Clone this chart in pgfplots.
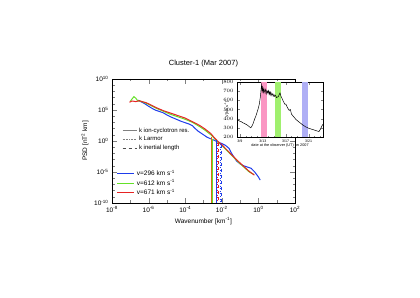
\documentclass[border=0pt]{standalone}
\usepackage{pgfplots}
\pgfplotsset{compat=1.18}
\usepackage{fontspec}
\setmainfont{Liberation Sans}
\definecolor{cblue}{RGB}{30,60,235}
\definecolor{cgreen}{RGB}{100,225,40}
\definecolor{cred}{RGB}{230,35,35}
\definecolor{corange}{RGB}{215,110,20}
\definecolor{bpink}{RGB}{250,150,195}
\definecolor{bgreen}{RGB}{160,240,110}
\definecolor{bblue}{RGB}{175,175,245}
\begin{document}
\begin{tikzpicture}
\path[use as bounding box] (0,0) rectangle (420pt,297pt);
% main axis
\begin{axis}[
  at={(112pt,94pt)}, anchor=south west, scale only axis,
  width=183pt, height=124pt,
  xmin=-8, xmax=2, ymin=-10, ymax=10,
  xtick={-8,-6,-4,-2,0,2},
  xticklabels={10\textsuperscript{-8},10\textsuperscript{-6},10\textsuperscript{-4},10\textsuperscript{-2},10\textsuperscript{0},10\textsuperscript{2}},
  minor xtick={-7,-5,-3,-1,1},
  ytick={-10,-5,0,5,10},
  yticklabels={10\textsuperscript{-10},10\textsuperscript{-5},10\textsuperscript{0},10\textsuperscript{5},10\textsuperscript{10}},
  minor ytick={-9,-8,-7,-6,-4,-3,-2,-1,1,2,3,4,6,7,8,9},
  tick align=inside, major tick length=5pt, minor tick length=2.5pt,
  ticklabel style={font=\fontsize{6.5}{7}\selectfont},
  xlabel={Wavenumber [km\textsuperscript{-1}]},
  ylabel={PSD [nT\textsuperscript{2} km]},
  every axis x label/.style={at={(axis description cs:0.5,-0.145)}, anchor=center, font=\fontsize{6.5}{7}\selectfont},
  every axis y label/.style={at={(axis description cs:-0.148,0.5)}, rotate=90, anchor=center, font=\fontsize{6.5}{7}\selectfont},
  title={Cluster-1 (Mar 2007)},
  title style={at={(axis description cs:0.5,1)}, anchor=south, yshift=2pt, font=\fontsize{7.5}{8}\selectfont},
  legend style={at={(axis description cs:0.025,0.035)}, anchor=south west, draw=none, fill=none,
    font=\fontsize{6.5}{7}\selectfont, inner sep=0pt, row sep=-1.5pt},
  legend cell align=left,
  legend image code/.code={\draw[line width=1.1pt] (0pt,0pt) -- (17pt,0pt);},
]
% spectra (log10 k, log10 PSD)
\addplot[cblue, line width=1pt] coordinates {
(-6.6,6.6) (-6.5,6.45) (-6.4,6.3) (-6.2,6.0) (-6.0,5.6) (-5.8,5.25) (-5.6,4.95) (-5.4,4.75) (-5.2,4.55) (-5.0,4.2)
(-4.8,3.9) (-4.6,3.65) (-4.4,3.4) (-4.2,3.15) (-4.0,2.95) (-3.8,2.75) (-3.6,2.45) (-3.45,2.0) (-3.3,1.6) (-3.15,1.3)
(-3.0,1.0) (-2.8,0.6) (-2.6,0.35) (-2.4,0.1) (-2.2,-0.2) (-2.0,-0.4) (-1.8,-0.7) (-1.6,-1.2) (-1.5,-1.8) (-1.4,-2.3)
(-1.2,-3.2) (-1.0,-3.7) (-0.8,-4.0) (-0.6,-4.2) (-0.4,-4.4) (-0.2,-5.0) (0.0,-5.8) (0.1,-6.3)};
\addlegendentry{v=296 km s\textsuperscript{-1}}
\addplot[cgreen, line width=1pt] coordinates {
(-7.0,6.4) (-6.9,6.8) (-6.8,7.15) (-6.7,6.9) (-6.6,6.5) (-6.45,6.4) (-6.3,6.3) (-6.0,5.9) (-5.8,5.6) (-5.6,5.3)
(-5.4,5.05) (-5.2,4.8) (-5.0,4.55) (-4.8,4.3) (-4.6,4.1) (-4.4,3.9) (-4.2,3.7) (-4.0,3.5) (-3.8,3.25) (-3.6,3.0)
(-3.4,2.65) (-3.2,2.3) (-2.9,1.7) (-2.6,1.0) (-2.4,0.4) (-2.2,-0.2) (-2.0,-0.7) (-1.8,-1.3) (-1.6,-1.9) (-1.4,-2.5)
(-1.2,-3.1) (-1.0,-3.65) (-0.8,-4.2) (-0.5,-5.0) (-0.25,-5.4)};
\addlegendentry{v=612 km s\textsuperscript{-1}}
\addplot[cred, line width=1pt] coordinates {
(-7.05,6.25) (-6.9,6.45) (-6.7,6.35) (-6.5,6.5) (-6.3,6.3) (-6.15,6.2) (-6.0,6.0) (-5.8,5.7) (-5.6,5.4) (-5.4,5.15)
(-5.2,4.9) (-5.0,4.7) (-4.8,4.5) (-4.6,4.3) (-4.4,4.1) (-4.2,3.9) (-4.0,3.7) (-3.8,3.4) (-3.6,3.1) (-3.4,2.8)
(-3.2,2.5) (-2.9,1.9) (-2.6,1.2) (-2.4,0.5) (-2.2,-0.1) (-2.0,-0.6) (-1.8,-1.2) (-1.6,-1.8) (-1.4,-2.4) (-1.2,-3.0)
(-1.0,-3.55) (-0.8,-4.1) (-0.5,-4.9) (-0.22,-5.5)};
\addlegendentry{v=671 km s\textsuperscript{-1}}
% ion-cyclotron resonance wavenumbers
\addplot[corange, line width=0.7pt, forget plot] coordinates {(-2.55,0.6) (-2.55,-10)};
\addplot[cgreen, line width=0.5pt, forget plot] coordinates {(-2.50,0.4) (-2.50,-10)};
\addplot[cblue, line width=0.8pt, forget plot] coordinates {(-2.30,0.1) (-2.30,-10)};
% Larmor and inertial length
\addplot[cred, line width=0.6pt, dotted, forget plot] coordinates {(-2.24,-0.3) (-2.24,-10)};
\addplot[cred, line width=0.6pt, dashed, forget plot] coordinates {(-2.19,-0.4) (-2.19,-10)};
\addplot[cblue, line width=0.6pt, dotted, forget plot] coordinates {(-2.09,-0.5) (-2.09,-10)};
\addplot[cblue, line width=0.6pt, dashed, forget plot] coordinates {(-2.04,-0.6) (-2.04,-10)};
\end{axis}
% second legend (line-style key)
\begin{axis}[
  at={(112pt,94pt)}, anchor=south west, scale only axis,
  width=183pt, height=124pt,
  xmin=-8, xmax=2, ymin=-10, ymax=10, hide axis, clip=true,
  legend style={at={(axis description cs:0.055,0.625)}, anchor=north west, draw=none, fill=none,
    font=\fontsize{6}{6.5}\selectfont, inner sep=0pt, row sep=-1pt},
  legend cell align=left,
  legend image code/.code={\draw (0pt,0pt) -- (14pt,0pt);},
]
\addplot[gray, line width=0.8pt] coordinates {(-20,-20) (-19,-20)};
\addlegendentry{k ion-cyclotron res.}
\addplot[gray, line width=0.6pt, densely dotted] coordinates {(-20,-20) (-19,-20)};
\addlegendentry{k Larmor}
\addplot[black!70, line width=0.6pt, dashed] coordinates {(-20,-20) (-19,-20)};
\addlegendentry{k inertial length}
\end{axis}
% inset
\begin{axis}[
  at={(237pt,160pt)}, anchor=south west, scale only axis,
  width=86pt, height=55pt,
  xmin=8.5, xmax=23.5, ymin=200, ymax=800,
  axis background/.style={fill=white},
  xtick={9,13,17,21}, xticklabels={3/9,3/13,3/17,3/21},
  minor xtick={10,11,12,14,15,16,18,19,20,22,23},
  ytick={200,300,...,800},
  tick align=inside, major tick length=2.5pt, minor tick length=1.2pt,
  ticklabel style={font=\fontsize{3.6}{4}\selectfont},
  xticklabel style={yshift=1pt},
  xlabel={date at the observer (UT) on 2007},
  ylabel={V[km s\textsuperscript{-1}]},
  every axis x label/.style={at={(axis description cs:0.5,-0.16)}, anchor=center, font=\fontsize{3.8}{4}\selectfont},
  every axis y label/.style={at={(axis description cs:-0.12,0.5)}, rotate=90, anchor=center, font=\fontsize{3.8}{4}\selectfont},
]
\addplot[fill=bpink, draw=none] coordinates {(12.67,200) (13.8,200) (13.8,800) (12.67,800)} -- cycle;
\addplot[fill=bgreen, draw=none] coordinates {(15.1,200) (16.15,200) (16.15,800) (15.1,800)} -- cycle;
\addplot[fill=bblue, draw=none] coordinates {(19.75,200) (20.8,200) (20.8,800) (19.75,800)} -- cycle;
\addplot[black, line width=0.5pt] coordinates {
(8.6,390) (8.8,380) (9.0,372) (9.3,365) (9.5,356) (9.8,348) (10.0,340) (10.3,330) (10.5,320) (10.7,310) (10.9,300)
(11.1,318) (11.3,345) (11.6,400) (11.8,430) (12.0,470) (12.2,510) (12.4,560) (12.6,650) (12.7,720) (12.8,770)
(12.9,700) (13.0,740) (13.1,690) (13.2,725) (13.3,700) (13.4,680) (13.5,720) (13.6,705) (13.7,670) (13.8,700)
(13.9,685) (14.0,705) (14.1,665) (14.2,690) (14.3,660) (14.4,690) (14.5,670) (14.6,650) (14.7,672) (14.8,668)
(14.9,645) (15.0,640) (15.1,660) (15.2,655) (15.4,630) (15.5,635) (15.7,640) (15.8,655) (16.0,680) (16.1,660)
(16.2,640) (16.4,615) (16.5,600) (16.7,575) (16.8,560) (17.0,560) (17.2,535) (17.3,520) (17.5,500) (17.6,490)
(17.8,500) (18.0,450) (18.2,435) (18.4,420) (18.6,405) (18.8,390) (19.0,380) (19.2,370) (19.4,360) (19.6,350)
(19.8,340) (20.0,330) (20.3,318) (20.5,310) (20.8,302) (21.0,295) (21.3,290) (21.5,285) (21.8,280) (22.0,275)
(22.3,270) (22.5,265) (22.7,262) (22.8,260) (23.0,280) (23.2,305) (23.3,320) (23.5,340)};
\end{axis}
\end{tikzpicture}
\end{document}
